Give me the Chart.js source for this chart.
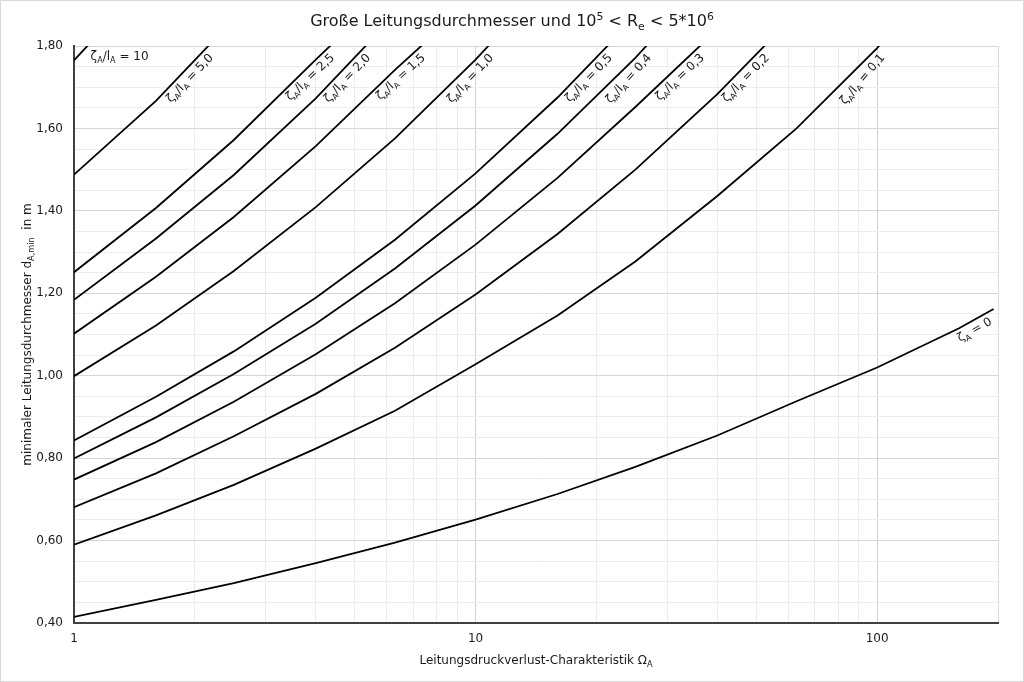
<!DOCTYPE html>
<html lang="de">
<head>
<meta charset="UTF-8">
<title>Große Leitungsdurchmesser</title>
<script src="https://cdn.jsdelivr.net/npm/chart.js"></script>
<style>
  html, body { margin: 0; padding: 0; background: #fff; }
  #frame { width: 1024px; height: 682px; box-sizing: border-box; border: 1px solid #d9d9d9; }
  canvas { display: block; }
</style>
</head>
<body>
<div id="frame"><canvas id="chart" width="1022" height="680"></canvas></div>
<script>
// Stützstellen Omega_A (x-Achse, logarithmisch)
const omega = [1, 1.6, 2.5, 4, 6.3, 10, 16, 25, 40, 63, 100, 160, 195];

// minimaler Durchmesser d_A,min [m] je Kurve; oberhalb 1,80 wird abgeschnitten
const dZeta0 = [0.415, 0.456, 0.497, 0.545, 0.595, 0.651, 0.713, 0.779, 0.855, 0.938, 1.020, 1.115, 1.162];
const d01  = [0.590, 0.661, 0.735, 0.823, 0.915, 1.028, 1.146, 1.277, 1.436, 1.600, 1.795, 2.030];
const d02  = [0.681, 0.763, 0.853, 0.956, 1.068, 1.197, 1.344, 1.500, 1.683, 1.880];
const d03  = [0.748, 0.839, 0.937, 1.052, 1.176, 1.318, 1.480, 1.652, 1.840];
const d04  = [0.799, 0.899, 1.004, 1.126, 1.260, 1.413, 1.587, 1.771, 1.990];
const d05  = [0.843, 0.949, 1.059, 1.189, 1.330, 1.491, 1.675, 1.870];
const d10  = [0.999, 1.122, 1.254, 1.409, 1.576, 1.767, 1.980];
const d15  = [1.102, 1.240, 1.385, 1.557, 1.742, 1.920];
const d20  = [1.184, 1.333, 1.487, 1.673, 1.875];
const d25  = [1.251, 1.407, 1.572, 1.767, 1.950];
const d50  = [1.488, 1.667, 1.865];
const d100 = [1.765, 1.980];

// Kurvenbeschriftung zeta_A/l_A
const curveNames = ['0,1', '0,2', '0,3', '0,4', '0,5', '1,0', '1,5', '2,0', '2,5', '5,0', '10'];
const curveData  = [d01, d02, d03, d04, d05, d10, d15, d20, d25, d50, d100];

// Achsen
const xGrid = [1, 2, 3, 4, 5, 6, 7, 8, 9, 10, 20, 30, 40, 50, 60, 70, 80, 90, 100, 200];
const xLabels = [1, 10, 100];
const yMin = 0.4, yMax = 1.8, yStep = 0.05, yLabelStep = 0.2;

const FONT = '"DejaVu Sans", Verdana, sans-serif';
Chart.defaults.font.family = FONT;
Chart.defaults.color = '#1a1a1a';

const toXY = d => d.map((y, i) => ({ x: omega[i], y }));

const datasets = [{ label: 'ζA = 0', data: toXY(dZeta0) }]
  .concat(curveData.map((d, i) => ({ label: 'ζA/lA = ' + curveNames[i], data: toXY(d) })))
  .map(ds => Object.assign(ds, {
    borderColor: '#000', borderWidth: 1.8, pointRadius: 0, tension: 0, fill: false
  }));

// Text mit Hoch-/Tiefstellung zeichnen
function drawRich(ctx, parts, x, y, size, align) {
  const fontOf = m => (m ? size * 0.68 : size) + 'px ' + FONT;
  let w = 0;
  for (const [t, m] of parts) { ctx.font = fontOf(m); w += ctx.measureText(t).width; }
  let cx = align === 'right' ? x - w : align === 'center' ? x - w / 2 : x;
  ctx.textAlign = 'left';
  ctx.textBaseline = 'alphabetic';
  for (const [t, m] of parts) {
    ctx.font = fontOf(m);
    const dy = m === 'sub' ? size * 0.25 : m === 'sup' ? -size * 0.4 : 0;
    ctx.fillText(t, cx, y + dy);
    cx += ctx.measureText(t).width;
  }
}

const zetaParts = v => [['ζ', ''], ['A', 'sub'], ['/l', ''], ['A', 'sub'], [' = ' + v, '']];

const textPlugin = {
  id: 'texte',
  afterDraw(chart) {
    const { ctx, chartArea: a, scales } = chart;
    ctx.save();
    ctx.fillStyle = '#1a1a1a';

    // Titel
    drawRich(ctx, [['Große Leitungsdurchmesser und 10', ''], ['5', 'sup'], [' < R', ''], ['e', 'sub'],
      [' < 5*10', ''], ['6', 'sup']], 511, 25, 16, 'center');

    // Achsentitel
    drawRich(ctx, [['Leitungsdruckverlust-Charakteristik Ω', ''], ['A', 'sub']],
      (a.left + a.right) / 2, 663, 12, 'center');
    ctx.save();
    ctx.translate(30, (a.top + a.bottom) / 2);
    ctx.rotate(-Math.PI / 2);
    drawRich(ctx, [['minimaler Leitungsdurchmesser d', ''], ['A,min', 'sub'], ['  in m', '']], 0, 0, 12, 'center');
    ctx.restore();

    const size = 12, gap = 3;
    const rotated = (px, py, ang, back, parts) => {
      ctx.save();
      ctx.translate(px - back * Math.cos(ang), py - back * Math.sin(ang));
      ctx.rotate(ang);
      drawRich(ctx, parts, 0, gap + size * 0.78, size, 'right');
      ctx.restore();
    };

    // zeta_A/l_A-Kurven: Beschriftung am oberen Rand
    curveNames.forEach((name, k) => {
      if (name === '10') return;
      const pts = chart.getDatasetMeta(k + 1).data;
      for (let i = 0; i < pts.length - 1; i++) {
        const p0 = pts[i], p1 = pts[i + 1];
        if (p0.y >= a.top && p1.y < a.top) {
          const f = (p0.y - a.top) / (p0.y - p1.y);
          const ang = Math.atan2(p1.y - p0.y, p1.x - p0.x);
          rotated(p0.x + f * (p1.x - p0.x), a.top, ang, 5, zetaParts(name));
          break;
        }
      }
    });

    // zeta_A = 0 am Kurvenende
    const p = chart.getDatasetMeta(0).data;
    const pe = p[p.length - 1], pv = p[p.length - 2];
    rotated(pe.x, pe.y, Math.atan2(pe.y - pv.y, pe.x - pv.x), 8, [['ζ', ''], ['A', 'sub'], [' = 0', '']]);

    // zeta_A/l_A = 10 waagerecht
    drawRich(ctx, zetaParts('10'), scales.x.getPixelForValue(1.1), scales.y.getPixelForValue(1.775) + 4, size, 'left');

    ctx.restore();
  }
};

const isMajorY = v => Math.abs(v / yLabelStep - Math.round(v / yLabelStep)) < 1e-6;

new Chart(document.getElementById('chart'), {
  type: 'line',
  data: { datasets },
  options: {
    responsive: false,
    animation: false,
    devicePixelRatio: 1,
    layout: { padding: { top: 45, right: 25, left: 0, bottom: 0 } },
    plugins: { legend: { display: false }, tooltip: { enabled: false } },
    scales: {
      x: {
        type: 'logarithmic',
        min: 1, max: 200,
        afterBuildTicks: s => { s.ticks = xGrid.map(v => ({ value: v })); },
        afterFit: s => { s.height = 58; },
        ticks: {
          autoSkip: false, maxRotation: 0, padding: 9,
          font: { size: 12 },
          callback: v => xLabels.includes(v) ? String(v) : ''
        },
        grid: {
          drawTicks: false,
          color: c => [10, 100].includes(c.tick.value) ? '#d2d2d2' : c.tick.value === 200 ? '#dcdcdc' : '#ececec'
        },
        border: { color: '#404040', width: 2 }
      },
      y: {
        type: 'linear',
        min: yMin, max: yMax,
        afterFit: s => { s.width = 73; },
        ticks: {
          stepSize: yStep, autoSkip: false, padding: 11,
          font: { size: 12 },
          callback: v => isMajorY(v) ? v.toFixed(2).replace('.', ',') : ''
        },
        grid: {
          drawTicks: false,
          color: c => isMajorY(c.tick.value) ? '#d6d6d6' : '#ededed'
        },
        border: { color: '#404040', width: 2 }
      }
    }
  },
  plugins: [textPlugin]
});
</script>
</body>
</html>
